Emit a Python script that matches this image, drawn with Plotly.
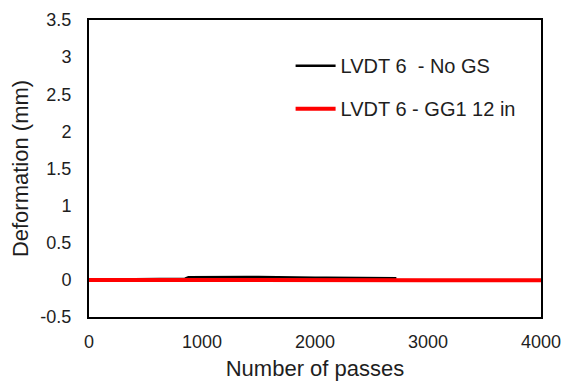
import plotly.graph_objects as go

passes_nogs = [0, 100, 200, 300, 400, 500, 600, 700, 800, 850, 880, 1000, 1100, 1200, 1300, 1400, 1500, 1600, 1700, 1800, 1900, 2000, 2100, 2200, 2300, 2400, 2500, 2600, 2720]
defo_nogs = [0.0, 0.005, 0.008, 0.01, 0.01, 0.012, 0.012, 0.013, 0.014, 0.015, 0.035, 0.038, 0.04, 0.04, 0.041, 0.04, 0.04, 0.04, 0.036, 0.033, 0.032, 0.03, 0.028, 0.027, 0.026, 0.025, 0.024, 0.023, 0.022]

passes_gg1 = [0, 500, 1000, 1500, 2000, 2500, 3000, 3500, 4000]
defo_gg1 = [0.0, -0.003, -0.004, -0.005, -0.005, -0.005, -0.006, -0.006, -0.006]

fig = go.Figure()
fig.add_trace(go.Scatter(x=passes_nogs, y=defo_nogs, mode="lines", name="LVDT 6  - No GS",
                         line=dict(color="black", width=2.5), legendgroup="a"))
fig.add_trace(go.Scatter(x=passes_gg1, y=defo_gg1, mode="lines", name="LVDT 6 - GG1 12 in",
                         line=dict(color="#ff0000", width=4), legendgroup="b"))

fig.update_layout(
    width=564, height=385,
    margin=dict(l=89, r=23, t=20, b=68, autoexpand=False),
    paper_bgcolor="white", plot_bgcolor="white",
    font=dict(family="Liberation Sans, Arial, sans-serif", color="#1e1e1e", size=18),
    showlegend=True,
    legend=dict(x=0.446, y=0.912, xanchor="left", yanchor="top", bgcolor="rgba(0,0,0,0)",
                font=dict(size=20, color="#1e1e1e"), tracegroupgap=14, itemwidth=40),
    xaxis=dict(range=[0, 4000], tickvals=[0, 1000, 2000, 3000, 4000], showgrid=False, zeroline=False,
               showline=True, linecolor="black", linewidth=2, mirror=True, ticks="",
               ticklabelstandoff=7, automargin=False,
               title=dict(text="Number of passes", font=dict(size=22), standoff=10),
               tickfont=dict(size=18)),
    yaxis=dict(range=[-0.5, 3.5], tickvals=[-0.5, 0, 0.5, 1, 1.5, 2, 2.5, 3, 3.5],
               ticktext=["-0.5", "0", "0.5", "1", "1.5", "2", "2.5", "3", "3.5"],
               showgrid=False, zeroline=False,
               showline=True, linecolor="black", linewidth=2, mirror=True, ticks="",
               ticklabelstandoff=12, automargin=False,
               title=dict(text="Deformation (mm)", font=dict(size=22), standoff=6),
               tickfont=dict(size=18)),
)
fig.write_html("out.html")
